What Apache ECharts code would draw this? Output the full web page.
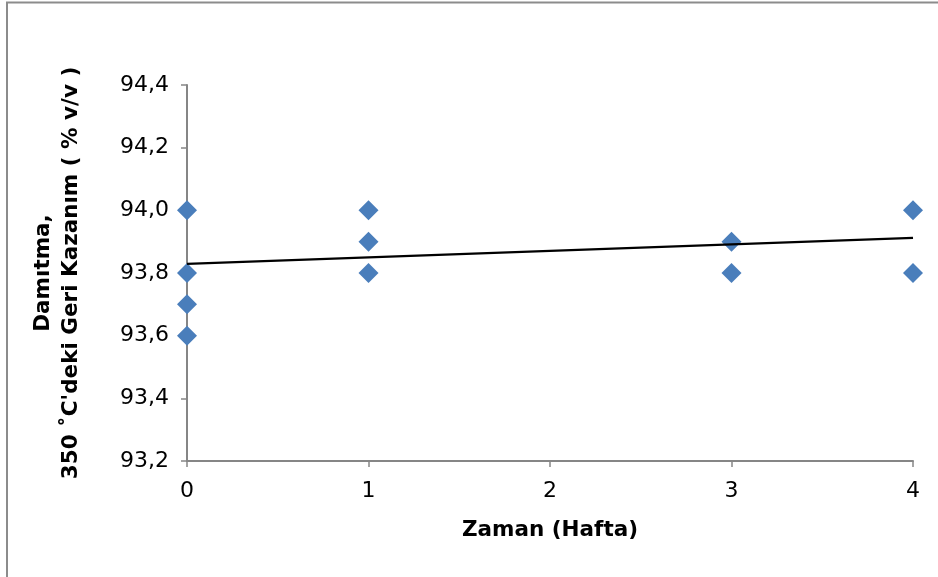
<!DOCTYPE html>
<html>
<head>
<meta charset="utf-8">
<script src="https://cdn.jsdelivr.net/npm/echarts@6/dist/echarts.min.js"></script>
<style>
html,body{margin:0;padding:0;background:#fff;}
#c{width:938px;height:577px;}
</style>
</head>
<body>
<div id="c"></div>
<script>
// Data
var weeks = [0, 0, 0, 0, 1, 1, 1, 3, 3, 4, 4];
var recovery = [94.0, 93.8, 93.7, 93.6, 94.0, 93.9, 93.8, 93.9, 93.8, 94.0, 93.8];
var trendX = [0, 4];
var trendY = [93.829, 93.912];
var xTicks = [0, 1, 2, 3, 4];
var yMin = 93.2, yMax = 94.4, yStep = 0.2;

var chart = echarts.init(document.getElementById('c'), null, {renderer: 'canvas'});
var pts = weeks.map(function (w, i) { return [w, recovery[i]]; });
var trend = trendX.map(function (x, i) { return [x, trendY[i]]; });
var font = '"DejaVu Sans", sans-serif';

chart.setOption({
  animation: false,
  backgroundColor: '#fff',
  graphic: [{
    type: 'rect',
    shape: {x: 7, y: 2.5, width: 1000, height: 700},
    style: {fill: 'none', stroke: '#8c8c8c', lineWidth: 2},
    silent: true
  }],
  grid: {left: 187, right: 25, top: 85, bottom: 116},
  xAxis: {
    type: 'value',
    min: xTicks[0], max: xTicks[xTicks.length - 1], interval: 1,
    name: 'Zaman (Hafta)',
    nameLocation: 'middle',
    nameGap: 58,
    nameTextStyle: {fontFamily: font, fontSize: 21.5, fontWeight: 'bold', color: '#000'},
    axisLine: {lineStyle: {color: '#868686', width: 2}},
    axisTick: {show: true, length: 6, lineStyle: {color: '#868686', width: 1.5}},
    axisLabel: {fontFamily: font, fontSize: 22, color: '#000', margin: 19},
    splitLine: {show: false}
  },
  yAxis: {
    type: 'value',
    min: yMin, max: yMax, interval: yStep,
    name: 'Damıtma,\n350 ˚C\'deki Geri Kazanım ( % v/v )',
    nameLocation: 'middle',
    nameRotate: 90,
    nameGap: 102,
    nameTextStyle: {fontFamily: font, fontSize: 21.5, fontWeight: 'bold', color: '#000', lineHeight: 28, align: 'center'},
    axisLine: {show: true, lineStyle: {color: '#868686', width: 2}},
    axisTick: {show: true, length: 6, lineStyle: {color: '#868686', width: 1.5}},
    axisLabel: {
      fontFamily: font, fontSize: 22, color: '#000', margin: 18,
      formatter: function (v) { return v.toFixed(1).replace('.', ','); }
    },
    splitLine: {show: false}
  },
  series: [{
    type: 'line',
    data: trend,
    symbol: 'none',
    lineStyle: {color: '#000', width: 2.2},
    z: 3
  }, {
    type: 'scatter',
    data: pts,
    symbol: 'diamond',
    symbolSize: 20,
    itemStyle: {color: '#4a7ebb', opacity: 1},
    z: 2
  }]
});
</script>
</body>
</html>
